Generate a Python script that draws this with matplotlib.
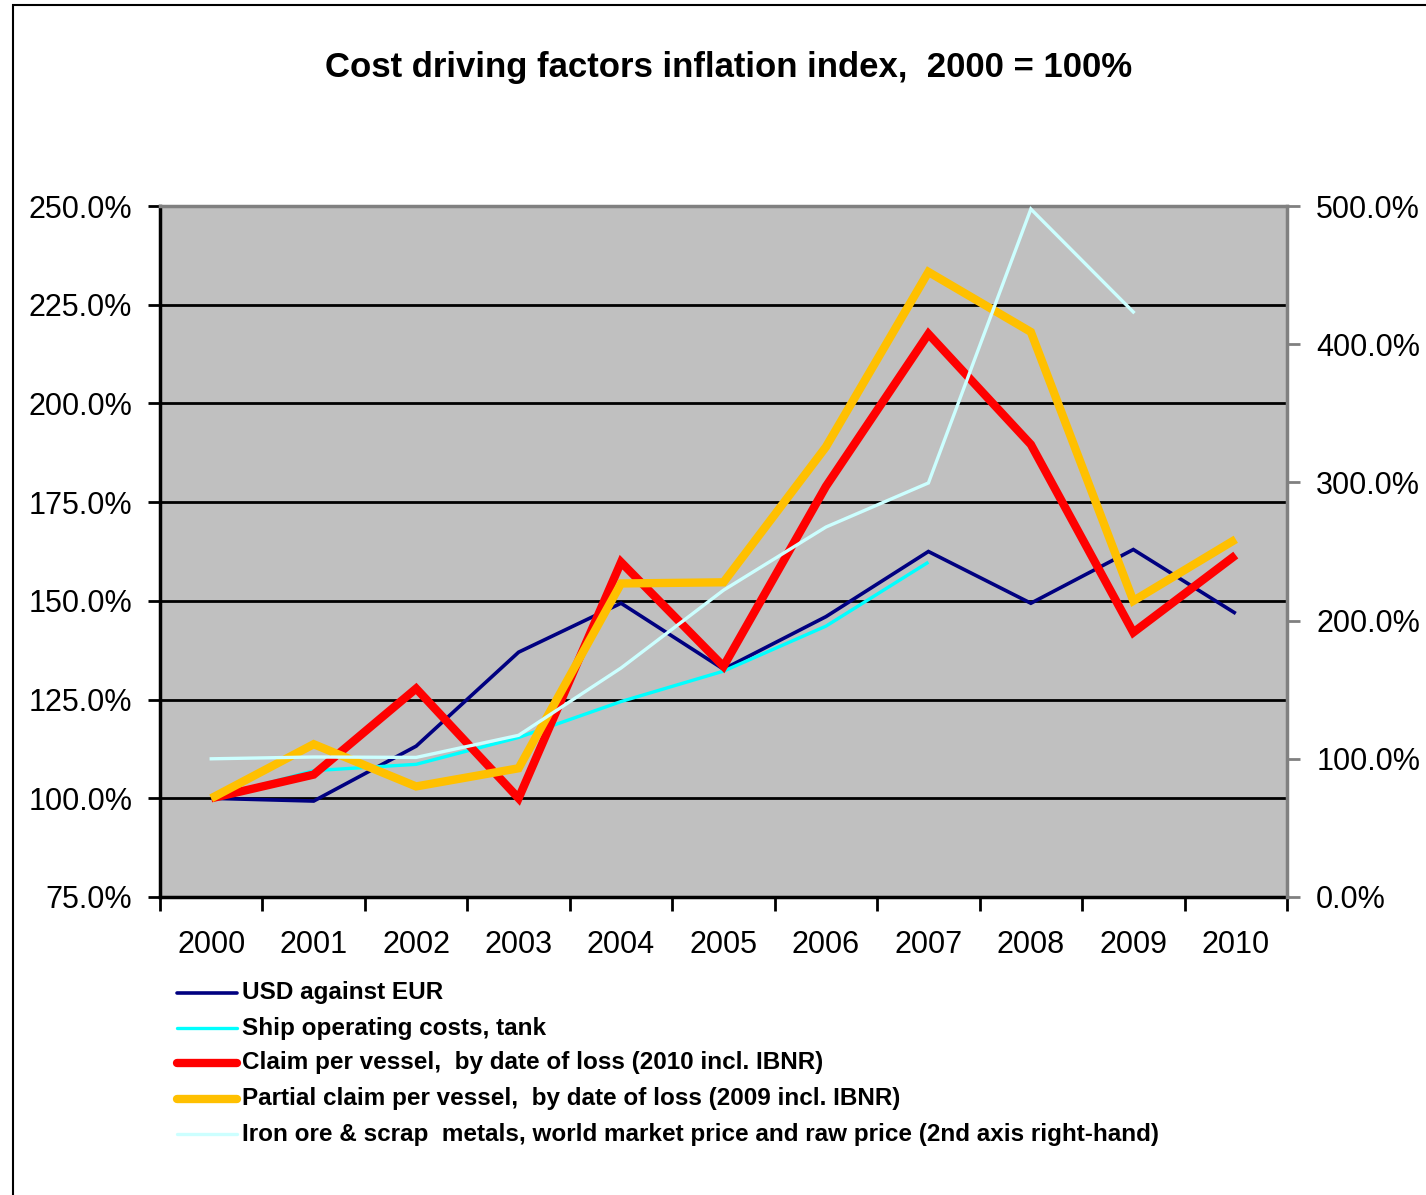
import matplotlib.pyplot as plt
from matplotlib.lines import Line2D
from matplotlib.patches import Rectangle
from matplotlib.ticker import FuncFormatter

plt.rcParams['font.family'] = ['Liberation Sans', 'DejaVu Sans']

years = ['2000', '2001', '2002', '2003', '2004', '2005', '2006', '2007', '2008', '2009', '2010']

usd_eur = [100.0, 99.3, 113.2, 137.0, 149.4, 132.7, 146.0, 162.5, 149.4, 163.0, 146.8]
ship_costs = [100.0, 107.0, 108.6, 115.4, 124.5, 132.2, 143.6, 159.8]
claim_vessel = [100.0, 106.0, 127.8, 100.0, 159.8, 133.4, 179.0, 217.6, 189.6, 142.0, 161.6]
partial_claim = [100.0, 113.7, 103.0, 107.6, 154.4, 154.7, 189.0, 233.3, 218.1, 150.0, 165.6]
iron_scrap = [100.0, 101.3, 101.0, 117.0, 165.7, 222.0, 267.7, 299.6, 497.8, 423.3]

labels = ['USD against EUR',
          'Ship operating costs, tank',
          'Claim per vessel,  by date of loss (2010 incl. IBNR)',
          'Partial claim per vessel,  by date of loss (2009 incl. IBNR)',
          'Iron ore & scrap  metals, world market price and raw price (2nd axis right-hand)']
colors = ['#000080', '#00FFFF', '#FF0000', '#FFC000', '#CCFFFF']
widths = [2.6, 2.4, 6.0, 6.0, 2.4]

fig = plt.figure(figsize=(14.26, 11.95), dpi=100)
# outer chart frame
fig.patches.append(Rectangle((13 / 1426, -0.01), 1.02, 1 - 5 / 1195 + 0.01,
                             transform=fig.transFigure, fill=False,
                             edgecolor='black', linewidth=1.5))

ax = fig.add_axes([160 / 1426, 1 - 897 / 1195, (1287 - 160) / 1426, (897 - 206) / 1195])
ax.set_facecolor('#C0C0C0')

x = list(range(len(years)))
series = [usd_eur, ship_costs, claim_vessel, partial_claim]
for i, vals in enumerate(series):
    ax.plot(x[:len(vals)], vals, color=colors[i], linewidth=widths[i],
            solid_joinstyle='miter', solid_capstyle='butt', zorder=3 + i)

ax.set_xlim(-0.5, 10.5)
ax.set_ylim(75, 250)
ax.set_yticks([75, 100, 125, 150, 175, 200, 225, 250])
ax.yaxis.set_major_formatter(FuncFormatter(lambda v, p: f'{v:.1f}%'))
ax.grid(axis='y', color='black', linewidth=2, zorder=1)
ax.set_axisbelow(True)

ax.set_xticks([i - 0.5 for i in range(12)])
ax.set_xticklabels([])
ax.set_xticks(x, minor=True)
ax.set_xticklabels(years, minor=True)
ax.tick_params(axis='x', which='major', direction='out', length=10, width=2)
ax.tick_params(axis='x', which='minor', length=0, pad=24, labelsize=22)
ax.tick_params(axis='y', direction='out', length=9, width=2, labelsize=22, pad=11)

for s in ['left', 'bottom']:
    ax.spines[s].set_linewidth(2.5)
ax.spines['top'].set_color('#808080')
ax.spines['top'].set_linewidth(2.5)
ax.spines['right'].set_visible(False)

ax2 = ax.twinx()
ax2.plot(x[:len(iron_scrap)], iron_scrap, color=colors[4], linewidth=widths[4],
         solid_joinstyle='miter', zorder=3)
ax2.set_ylim(0, 500)
ax2.set_yticks([0, 100, 200, 300, 400, 500])
ax2.yaxis.set_major_formatter(FuncFormatter(lambda v, p: f'{v:.1f}%'))
ax2.tick_params(axis='y', direction='out', length=9, width=2, color='#808080',
                labelsize=22, pad=12)
ax2.spines['right'].set_color('#808080')
ax2.spines['right'].set_linewidth(2.5)
for s in ['left', 'bottom', 'top']:
    ax2.spines[s].set_visible(False)

fig.text(729 / 1426, 1 - 68 / 1195, 'Cost driving factors inflation index,  2000 = 100%',
         ha='center', va='center', fontsize=25, fontweight='bold')

# legend rows below the plot
rows = [993, 1028, 1063, 1099, 1134]
for i, y in enumerate(rows):
    yf = 1 - y / 1195
    fig.add_artist(Line2D([177 / 1426, 237 / 1426], [yf, yf], color=colors[i],
                          linewidth=widths[i], transform=fig.transFigure,
                          solid_capstyle='round'))
    fig.text(242 / 1426, yf, labels[i], ha='left', va='center',
             fontsize=17.5, fontweight='bold')

fig.savefig('out.png', dpi=100)
